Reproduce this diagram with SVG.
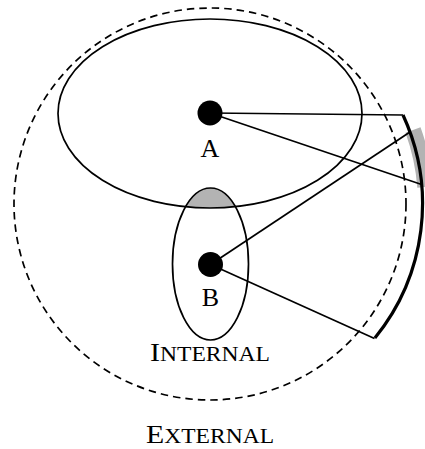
<svg xmlns="http://www.w3.org/2000/svg" width="425" height="449" viewBox="0 0 425 449">
<style>
.ln{fill:none;stroke:#000;stroke-width:1.7}
.lbl{font-family:"Liberation Serif","DejaVu Serif",serif;font-size:26px;fill:#000;text-anchor:middle}
.sc{font-size:20.5px}
</style>
<defs>
<clipPath id="clipA"><ellipse cx="210" cy="113.5" rx="152" ry="94.5"/></clipPath>
</defs>
<rect width="425" height="449" fill="#fff"/>
<g id="external">
<circle cx="210" cy="204" r="196" class="ln" stroke-dasharray="7.5 5"/>
<text class="lbl" x="210" y="443" textLength="128" lengthAdjust="spacingAndGlyphs">E<tspan class="sc">XTERNAL</tspan></text>
</g>
<g id="lens">
<ellipse cx="210.5" cy="264" rx="38" ry="76" fill="#b3b3b3" clip-path="url(#clipA)"/>
</g>
<g id="regionA">
<ellipse cx="210" cy="113.5" rx="152" ry="94.5" class="ln"/>
</g>
<g id="regionB">
<ellipse cx="210.5" cy="264" rx="38" ry="76" class="ln"/>
<text class="lbl" x="210" y="361" textLength="120" lengthAdjust="spacingAndGlyphs">I<tspan class="sc">NTERNAL</tspan></text>
</g>
<g id="screen">
<path d="M413,130.1 A216,216 0 0,1 425.3,187.1" fill="none" stroke="#b3b3b3" stroke-width="16"/>
<path d="M403,115 A212.5,212.5 0 0,1 374.9,338" fill="none" stroke="#000" stroke-width="3.2"/>
</g>
<g id="connectors">
<line x1="210" y1="113" x2="403" y2="115" class="ln"/>
<line x1="210" y1="113" x2="421.6" y2="184.5" class="ln"/>
<line x1="210.5" y1="264.5" x2="410" y2="132" class="ln"/>
<line x1="210.5" y1="264.5" x2="374.5" y2="338.5" class="ln"/>
</g>
<g id="nodeA">
<circle cx="210" cy="113" r="12.5" fill="#000"/>
<text class="lbl" x="210" y="157">A</text>
</g>
<g id="nodeB">
<circle cx="210.5" cy="264.5" r="12.5" fill="#000"/>
<text class="lbl" x="210.5" y="306">B</text>
</g>
</svg>
